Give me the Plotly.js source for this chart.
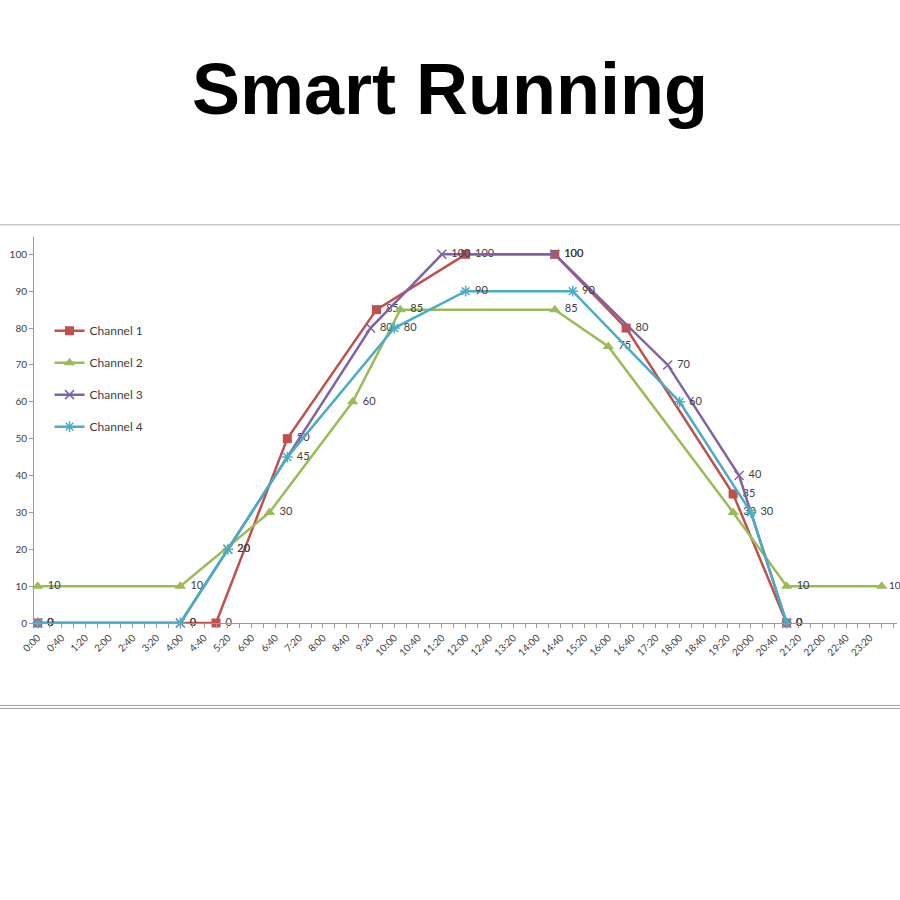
<!DOCTYPE html>
<html>
<head>
<meta charset="utf-8">
<script src="https://cdn.plot.ly/plotly-3.0.1.min.js"></script>
<style>html,body{margin:0;padding:0;background:#fff;}#chart{width:900px;height:900px;}</style>
</head>
<body>
<div id="chart"></div>
<script>
// ---- data (times as H:MM, values in %) ----
var ch1Times = ["0:00","5:00","7:00","9:30","12:00","14:30","16:30","19:30","21:00"];
var ch1Values = [0,0,50,85,100,100,80,35,0];
var ch2Times = ["0:00","4:00","6:30","8:50","10:10","14:30","16:00","19:30","21:00","23:40"];
var ch2Values = [10,10,30,60,85,85,75,30,10,10];
var ch3Times = ["0:00","4:00","5:20","9:20","11:20","14:30","17:40","19:40","21:00"];
var ch3Values = [0,0,20,80,100,100,70,40,0];
var ch4Times = ["0:00","4:00","5:20","7:00","10:00","12:00","15:00","18:00","20:00","21:00"];
var ch4Values = [0,0,20,45,80,90,90,60,30,0];
var seriesNames = ["Channel 1","Channel 2","Channel 3","Channel 4"];
var seriesColors = ["#C0504D","#9BBB59","#8064A2","#4BACC6"];
var seriesSymbols = ["square","triangle-up","x-thin-open","asterisk-open"];
var markerSizes = [9,10,9,9];

function toMin(s){var p=s.split(":");return (+p[0])*60+(+p[1]);}
function fmt(m){var h=Math.floor(m/60),mm=m%60;return h+":"+(mm<10?"0":"")+mm;}

// tick marks every 20 min, labels every 40 min
var tickVals=[], tickText=[];
for(var m=0;m<=1440;m+=20){tickVals.push(m);tickText.push((m%40===0 && m<1440)?fmt(m):"");}

var allTimes=[ch1Times,ch2Times,ch3Times,ch4Times];
var allValues=[ch1Values,ch2Values,ch3Values,ch4Values];
var traces=[];
for(var i=0;i<4;i++){
  var xs=allTimes[i].map(toMin);
  traces.push({
    type:"scatter", mode:"lines+markers+text",
    name:seriesNames[i], legendgroup:"g"+i,
    x:xs, y:allValues[i],
    text:allValues[i].map(function(v,j){return (xs[j]>1400?"":"\u00a0")+v;}),
    textposition:"middle right",
    textfont:{family:"Lato, sans-serif", size:xs.map(function(x){return x>1400?10:11;}), color:"#404040"},
    line:{color:seriesColors[i], width:2.5},
    marker:{symbol:seriesSymbols[i], size:markerSizes[i], color:seriesColors[i],
            line:{color:seriesColors[i], width:(i>=2?1.5:0)}},
    cliponaxis:false, hoverinfo:"x+y"
  });
}

var layout={
  width:900, height:900,
  paper_bgcolor:"#fff", plot_bgcolor:"#fff",
  margin:{l:34, r:3, t:237, b:277, pad:0},
  showlegend:true,
  title:{text:"Smart Running", font:{family:"Liberation Sans, Arial, sans-serif", size:72, color:"#000", weight:"bold"},
         x:0.5, xref:"container", xanchor:"center", y:0.901, yref:"container", yanchor:"middle"},
  xaxis:{range:[-6.2,1445.7], tickmode:"array", tickvals:tickVals, ticktext:tickText,
         tickangle:-45, ticks:"outside", ticklen:4, tickcolor:"#9a9a9a",
         showline:true, linecolor:"#9a9a9a", linewidth:1, showgrid:false, zeroline:false,
         tickfont:{family:"Lato, sans-serif", size:10, color:"#404040"}},
  yaxis:{range:[0,104.7], tickmode:"array", tickvals:[0,10,20,30,40,50,60,70,80,90,100],
         ticks:"outside", ticklen:4, tickcolor:"#9a9a9a",
         showline:true, linecolor:"#9a9a9a", linewidth:1, showgrid:false, zeroline:false,
         tickfont:{family:"Lato, sans-serif", size:10, color:"#404040"}},
  legend:{x:0.018, y:0.795, xanchor:"left", yanchor:"top", bgcolor:"rgba(0,0,0,0)",
          traceorder:"grouped", tracegroupgap:13,
          font:{family:"Lato, sans-serif", size:12, color:"#404040"}},
  shapes:[
    {type:"line", xref:"paper", yref:"paper", x0:-0.04, x1:1.004, y0:1.0316, y1:1.0316, line:{color:"#b0b0b0", width:1}},
    {type:"line", xref:"paper", yref:"paper", x0:-0.04, x1:1.004, y0:-0.2136, y1:-0.2136, line:{color:"#a0a0a0", width:1}},
    {type:"line", xref:"paper", yref:"paper", x0:-0.04, x1:1.004, y0:-0.2214, y1:-0.2214, line:{color:"#a0a0a0", width:1}}
  ]
};
Plotly.newPlot("chart", traces, layout, {displayModeBar:false, staticPlot:true});
</script>
</body>
</html>
